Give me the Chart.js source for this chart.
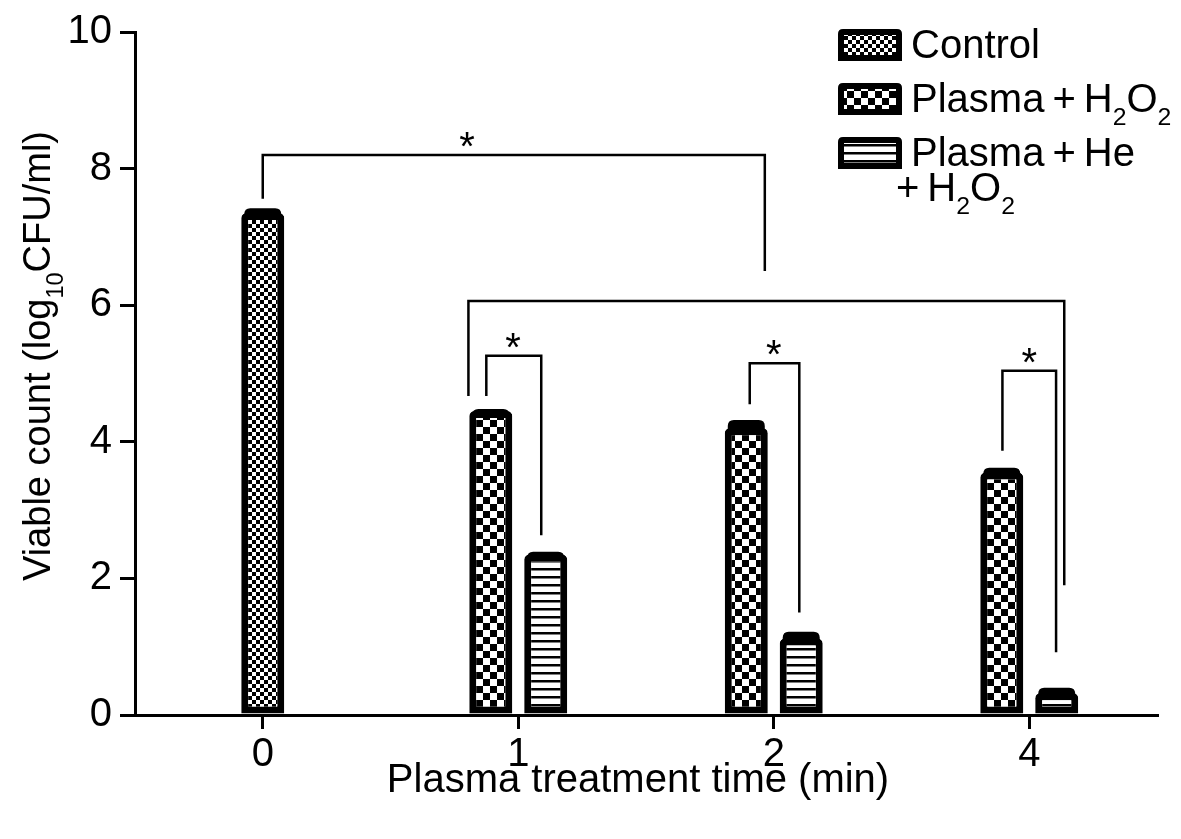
<!DOCTYPE html>
<html>
<head>
<meta charset="utf-8">
<script src="https://cdn.jsdelivr.net/npm/chart.js@4.4.0/dist/chart.umd.min.js"></script>
<style>
  html, body { margin: 0; padding: 0; background: #fff; }
  #wrap { width: 1181px; height: 839px; }
</style>
</head>
<body>
<div id="wrap"><canvas id="bar-chart" width="1181" height="839"></canvas></div>
<script>
// bar-chart - viable count after plasma treatment

// Data
const times = ["0", "1", "2", "4"];
const seriesNames = ["Control", "Plasma\u2009+\u2009H_2O_2", "Plasma\u2009+\u2009He|+\u2009H_2O_2"];
const controlMean = [7.35, null, null, null];
const controlErr = [0.07, null, null, null];
const h2o2Mean = [null, 4.45, 4.2, 3.55];
const h2o2Err = [null, 0.03, 0.12, 0.07];
const heMean = [null, 2.35, 1.12, 0.32];
const heErr = [null, 0.04, 0.1, 0.08];

// Significance brackets (x in category index units, y in log10 CFU/ml)
const bracketFrom = [0, 0.805, 0.875, 1.906, 2.895];
const bracketTo = [1.965, 3.137, 1.09, 2.1, 3.105];
const bracketLevel = [8.2, 6.06, 5.26, 5.15, 5.04];
const bracketFromEnd = [7.56, 4.67, 4.67, 4.55, 3.87];
const bracketToEnd = [6.5, 1.9, 2.63, 1.5, 0.92];
const bracketStar = [0.8, null, 0.98, 2.0, 3.0];

const FONT = "'Liberation Sans', Arial, sans-serif";

const canvas = document.getElementById("bar-chart");
const ctx = canvas.getContext("2d");

// Fill patterns
function checker(size) {
    const c = document.createElement("canvas");
    c.width = c.height = size * 2;
    const g = c.getContext("2d");
    g.fillStyle = "#fff";
    g.fillRect(0, 0, size * 2, size * 2);
    g.fillStyle = "#000";
    g.fillRect(0, 0, size, size);
    g.fillRect(size, size, size, size);
    return ctx.createPattern(c, "repeat");
}

function stripes(period, line) {
    const c = document.createElement("canvas");
    c.width = 8;
    c.height = period;
    const g = c.getContext("2d");
    g.fillStyle = "#fff";
    g.fillRect(0, 0, 8, period);
    g.fillStyle = "#000";
    g.fillRect(0, 0, 8, line);
    return ctx.createPattern(c, "repeat");
}

const fills = [checker(4), checker(7), stripes(8, 2.5)];
const means = [controlMean, h2o2Mean, heMean];
const errs = [controlErr, h2o2Err, heErr];

// Text with _digits subscripts
function drawRich(g, text, x, y, size, measureOnly) {
    const parts = text.split(/(_\d+)/).filter((p) => p.length);
    let cx = x;
    parts.forEach((p) => {
        const sub = p[0] === "_";
        const s = sub ? size * 0.62 : size;
        const t = sub ? p.slice(1) : p;
        g.font = `${s}px ${FONT}`;
        if (!measureOnly) g.fillText(t, cx, sub ? y + size * 0.33 : y);
        cx += g.measureText(t).width;
    });
    return cx - x;
}

function roundRect(g, x, y, w, h, r) {
    g.beginPath();
    g.moveTo(x + r, y);
    g.lineTo(x + w - r, y);
    g.quadraticCurveTo(x + w, y, x + w, y + r);
    g.lineTo(x + w, y + h);
    g.lineTo(x, y + h);
    g.lineTo(x, y + r);
    g.quadraticCurveTo(x, y, x + r, y);
    g.closePath();
}

// Error bar caps
const errorBars = {
    id: "errorBars",
    afterDatasetsDraw(chart) {
        const g = chart.ctx;
        const y = chart.scales.y;
        g.save();
        g.fillStyle = "#000";
        means.forEach((vals, i) => {
            chart.getDatasetMeta(i).data.forEach((bar, j) => {
                if (vals[j] === null) return;
                const top = y.getPixelForValue(vals[j] + errs[i][j]);
                const w = bar.width;
                roundRect(g, bar.x - w / 2 + 3, top, w - 6, bar.y - top + 6, 6);
                g.fill();
            });
        });
        g.restore();
    },
};

// Brackets, stars, legend and axis titles
const annotations = {
    id: "annotations",
    afterDraw(chart) {
        const g = chart.ctx;
        const x = chart.scales.x;
        const y = chart.scales.y;
        g.save();
        g.strokeStyle = "#000";
        g.fillStyle = "#000";
        g.lineWidth = 2.5;
        bracketLevel.forEach((lvl, i) => {
            const x1 = x.getPixelForValue(bracketFrom[i]);
            const x2 = x.getPixelForValue(bracketTo[i]);
            const yl = y.getPixelForValue(lvl);
            g.beginPath();
            g.moveTo(x1, y.getPixelForValue(bracketFromEnd[i]));
            g.lineTo(x1, yl);
            g.lineTo(x2, yl);
            g.lineTo(x2, y.getPixelForValue(bracketToEnd[i]));
            g.stroke();
            if (bracketStar[i] !== null) {
                g.font = `40px ${FONT}`;
                g.textAlign = "center";
                g.textBaseline = "alphabetic";
                g.fillText("*", x.getPixelForValue(bracketStar[i]), yl + 5);
            }
        });

        // Legend
        g.textAlign = "left";
        g.textBaseline = "alphabetic";
        const rowTop = [29, 83, 137];
        const rowBase = [58, 112, 166];
        seriesNames.forEach((name, i) => {
            g.fillStyle = "#000";
            roundRect(g, 838, rowTop[i], 64, 32, 5);
            g.fill();
            g.fillStyle = fills[i];
            g.fillRect(844, rowTop[i] + 6, 52, 20);
            g.fillStyle = "#000";
            const lines = name.split("|");
            drawRich(g, lines[0], 911, rowBase[i], 40);
            if (lines[1]) drawRich(g, lines[1], 896, rowBase[i] + 35, 40);
        });

        // Axis titles
        const xt = "Plasma treatment time (min)";
        g.font = `40px ${FONT}`;
        g.textAlign = "center";
        g.fillText(xt, 638, 792);

        const yt = "Viable count (log_10CFU/ml)";
        g.textAlign = "left";
        const w = drawRich(g, yt, 0, 0, 38, true);
        g.translate(50, 356);
        g.rotate(-Math.PI / 2);
        drawRich(g, yt, -w / 2, 0, 38);
        g.restore();
    },
};

const datasets = means.map((vals, i) => ({
    label: seriesNames[i].replace(/_/g, "").replace("|", " "),
    data: vals,
    backgroundColor: fills[i],
    borderColor: "#000",
    borderWidth: 7,
    borderSkipped: false,
    borderRadius: { topLeft: 5, topRight: 5 },
}));

new Chart(ctx, {
    type: "bar",
    data: { labels: times, datasets },
    options: {
        responsive: false,
        devicePixelRatio: 1,
        animation: false,
        layout: { padding: { top: 30, right: 24, left: 0, bottom: 0 } },
        datasets: {
            bar: {
                skipNull: true,
                categoryPercentage: 0.43,
                barPercentage: 0.8,
                maxBarThickness: 43,
            },
        },
        plugins: { legend: { display: false }, tooltip: { enabled: false } },
        scales: {
            x: {
                afterFit: (scale) => { scale.height = 124; },
                grid: { offset: false, drawOnChartArea: false, drawTicks: true, tickLength: 14, color: "#000", lineWidth: 3 },
                border: { display: true, color: "#000", width: 3 },
                ticks: { color: "#000", font: { family: FONT, size: 40 }, padding: 2 },
            },
            y: {
                min: 0,
                max: 10,
                afterFit: (scale) => { scale.width = 135; },
                grid: { drawOnChartArea: false, drawTicks: true, tickLength: 15, color: "#000", lineWidth: 3 },
                border: { display: true, color: "#000", width: 3 },
                ticks: { stepSize: 2, color: "#000", font: { family: FONT, size: 40 }, padding: 8 },
            },
        },
    },
    plugins: [errorBars, annotations],
});
</script>
</body>
</html>
